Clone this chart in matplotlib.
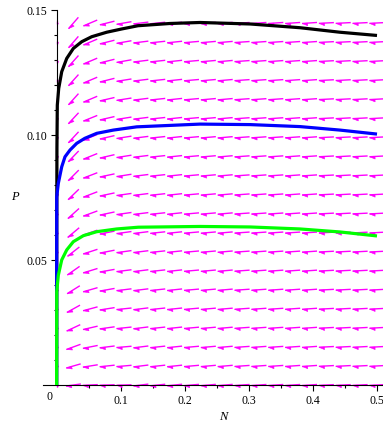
import numpy as np
import matplotlib
matplotlib.use("Agg")
import matplotlib.pyplot as plt

# ---------------- data ----------------
# trajectories (N, P)
black_N = [0.0, 0.0002, 0.0005, 0.0011, 0.0033, 0.0080, 0.0158, 0.0261, 0.0392, 0.0548,
           0.0782, 0.1016, 0.1270, 0.177, 0.224, 0.302, 0.38, 0.442, 0.5]
black_P = [0.0, 0.06, 0.095, 0.1121, 0.1188, 0.1255, 0.1308, 0.1348, 0.1375, 0.1395,
           0.1413, 0.1426, 0.1439, 0.1448, 0.1452, 0.1446, 0.1431, 0.1413, 0.1400]

blue_N = [0.0, 0.0001, 0.0002, 0.0027, 0.0080, 0.0131, 0.0209, 0.0314, 0.0440, 0.0626,
          0.0885, 0.1250, 0.2238, 0.3018, 0.3798, 0.4422, 0.5]
blue_P = [0.0, 0.04, 0.0754, 0.0808, 0.0874, 0.0914, 0.0941, 0.0968, 0.0988, 0.1008,
          0.1021, 0.1034, 0.1045, 0.1043, 0.1035, 0.1021, 0.1005]

green_N = [0.0, 0.0001, 0.0002, 0.0027, 0.0080, 0.0158, 0.0261, 0.0417, 0.0626, 0.0938,
           0.1275, 0.2238, 0.3018, 0.3798, 0.4422, 0.5]
green_P = [0.0, 0.02, 0.0374, 0.0440, 0.0501, 0.0541, 0.0574, 0.0598, 0.0614, 0.0625,
           0.0632, 0.0635, 0.0633, 0.0625, 0.0613, 0.0597]

# direction-field grid
field_N = np.linspace(0.0, 0.5, 20)
field_P = np.linspace(0.0, 0.145, 20)
# arrow tilt (degrees below horizontal, pointing left), read per row (bottom->top)
tilt_col1 = [8, 16, 20, 25, 29, 32, 35, 38, 40, 42, 44, 45, 46, 47, 47, 48, 48, 48, 49, 49]
tilt_col2 = [3, 9, 11, 13, 15, 16, 17, 18, 19, 20, 21, 21, 22, 22, 22, 23, 23, 23, 23, 23]
tilt_col3 = [2, 6, 7, 8, 9, 10, 10, 11, 11, 12, 12, 12, 13, 13, 13, 13, 14, 14, 14, 14]
tilt_col4 = [2, 5, 5, 6, 6, 7, 7, 8, 8, 8, 8, 9, 9, 9, 9, 9, 9, 10, 10, 10]
# columns 5..19: tilt roughly the same for every row
tilt_far = [7, 6, 6, 5, 5, 5, 4, 4, 4, 4, 4, 3, 3, 3, 3]

x_ticks = [0.1, 0.2, 0.3, 0.4, 0.5]
x_ticklabels = ["0.1", "0.2", "0.3", "0.4", "0.5"]
y_ticks = [0.05, 0.10, 0.15]
y_ticklabels = ["0.05", "0.10", "0.15"]

# ---------------- figure ----------------
W, H = 383, 424
fig = plt.figure(figsize=(W / 100, H / 100), dpi=100)
px0, px1 = 43, 383          # axes horizontal pixel extent
py_bot, py_top = 385, 10.5  # pixel y of P=0 and P=0.15
ax = fig.add_axes([px0 / W, (H - py_bot) / H, (px1 - px0) / W, (py_bot - py_top) / H])
x_scale = 640.8
x_zero = 56.6
ax.set_xlim((px0 - x_zero) / x_scale, (px1 - x_zero) / x_scale)
ax.set_ylim(0, 0.15)

for s in ["top", "right"]:
    ax.spines[s].set_visible(False)
ax.spines["left"].set_position(("data", 0))
ax.spines["bottom"].set_position(("data", 0))
ax.spines["left"].set_linewidth(0.8)
ax.spines["bottom"].set_linewidth(0.8)

serif = "Liberation Serif"
ax.set_xticks(x_ticks)
ax.set_xticklabels(x_ticklabels, fontfamily=serif, fontsize=8.5)
ax.set_yticks(y_ticks)
ax.set_yticklabels(y_ticklabels, fontfamily=serif, fontsize=8.5)
ax.set_xticks(np.arange(0.05, 0.5, 0.1), minor=True)
ax.set_yticks([v for v in np.arange(0.01, 0.15, 0.01) if abs(v * 100 % 5) > 1e-6 and abs(v * 100 % 5 - 5) > 1e-6], minor=True)
ax.tick_params(axis="both", which="major", direction="out", length=4, width=0.8, colors="black")
ax.tick_params(axis="both", which="minor", direction="out", length=2.5, width=0.8)
ax.tick_params(axis="x", which="major", pad=3)
ax.tick_params(axis="y", which="major", pad=2.5)

ax.text(-0.0103, -0.005, "0", fontfamily=serif, fontsize=8.5, ha="center", va="center", clip_on=False)
fig.text(223 / W, 1 - 417 / H, "N", fontfamily=serif, style="italic", fontsize=9, ha="center", va="center")
fig.text(15 / W, 1 - 197 / H, "P", fontfamily=serif, style="italic", fontsize=9, ha="center", va="center")

# ---------------- direction field ----------------
col_tilts = {1: tilt_col1, 2: tilt_col2, 3: tilt_col3, 4: tilt_col4}
for i, n in enumerate(field_N[5:]):
    col_tilts[i + 5] = [tilt_far[i]] * len(field_P)

to_px = ax.transData
to_data = ax.transData.inverted()
L = 15.0      # arrow length (pixels)
HL = 5.5      # head length
HW = 2.6      # half-head width
mag = "#ff00ff"
for ci, n in enumerate(field_N):
    for ri, p in enumerate(field_P):
        c = to_px.transform((n, p))
        if ci == 0:
            d = np.array([0.0, -1.0])
            length, hl, hw = 3.0, 1.5, 1.0
        else:
            th = np.deg2rad(col_tilts[ci][ri])
            d = np.array([-np.cos(th), -np.sin(th)])
            length, hl, hw = L, HL, HW
        tail = c - d * length / 2
        tip = c + d * length / 2
        perp = np.array([-d[1], d[0]])
        base = tip - d * hl
        barb = base + perp * hw
        seg = to_data.transform(np.array([tail, tip]))
        ax.plot(seg[:, 0], seg[:, 1], color=mag, lw=1.0, solid_capstyle="butt", clip_on=False, zorder=2)
        tri = to_data.transform(np.array([tip, base, barb]))
        ax.fill(tri[:, 0], tri[:, 1], color=mag, lw=0.4, clip_on=False, zorder=2)

# ---------------- trajectories ----------------
ax.plot(black_N, black_P, color="black", lw=2.3, zorder=3, clip_on=False,
        solid_capstyle="butt", solid_joinstyle="round")
ax.plot(blue_N, blue_P, color="#0000ff", lw=2.3, zorder=4, clip_on=False,
        solid_capstyle="butt", solid_joinstyle="round")
ax.plot(green_N, green_P, color="#00ff00", lw=2.3, zorder=5, clip_on=False,
        solid_capstyle="butt", solid_joinstyle="round")

fig.savefig("out.png", dpi=100)
